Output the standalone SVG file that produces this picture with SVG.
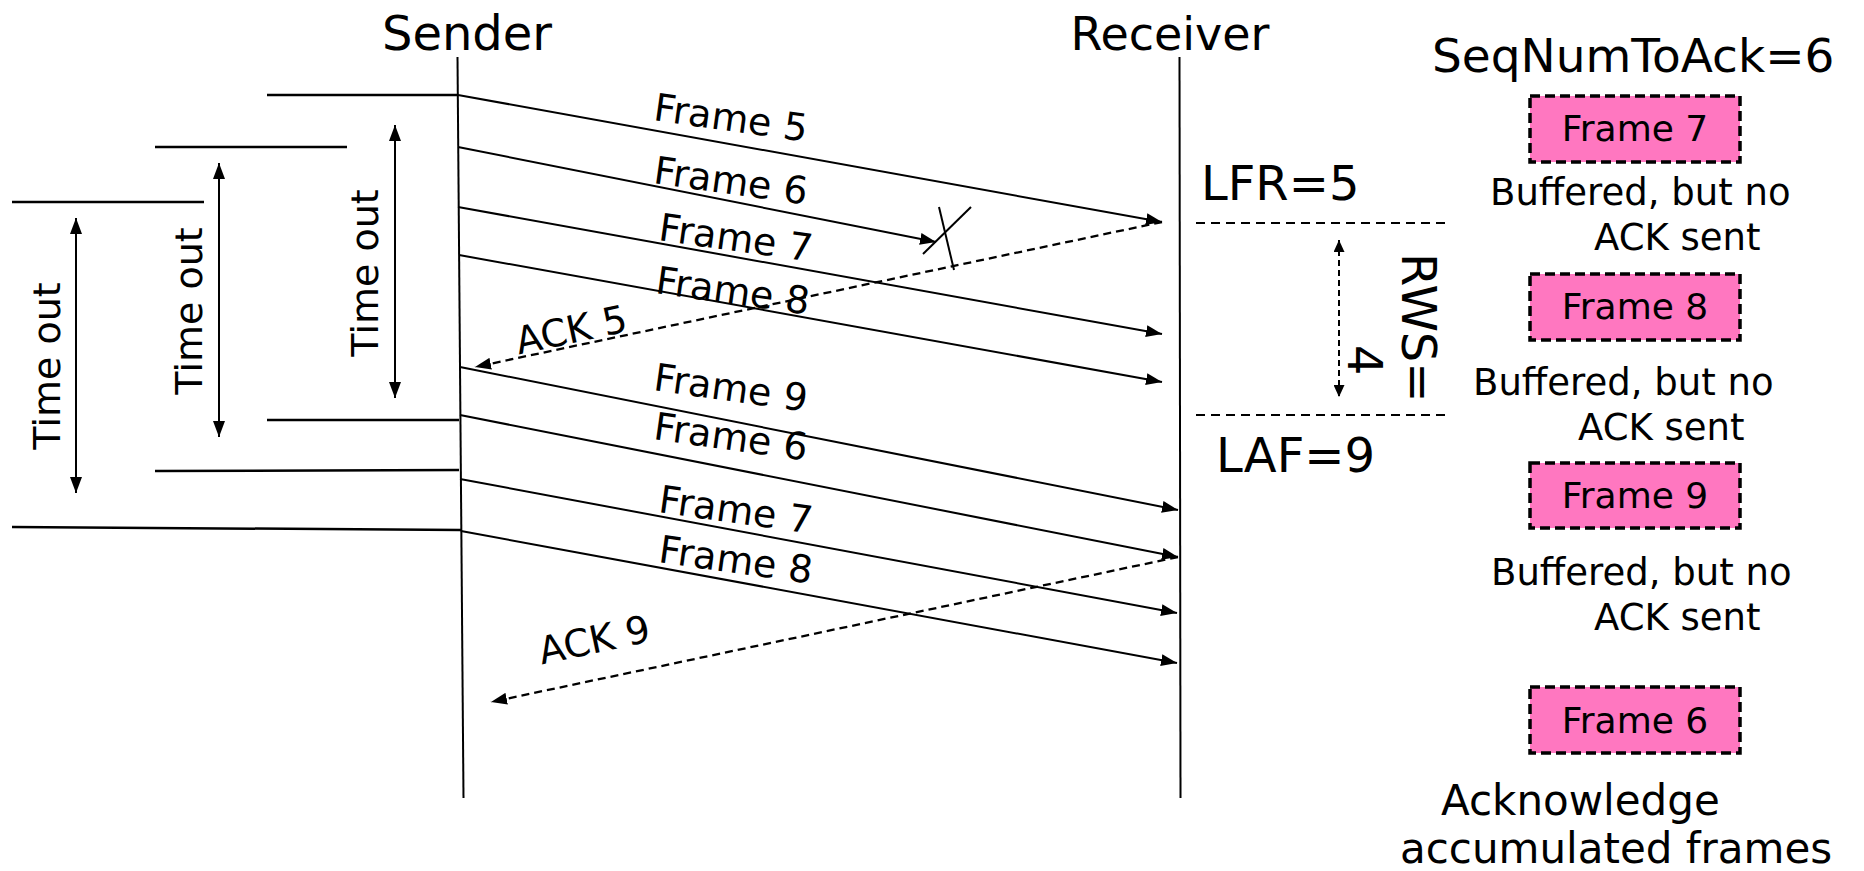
<svg xmlns="http://www.w3.org/2000/svg" width="1864" height="871" viewBox="0 0 1864 871">
<defs>
<style>
text{font-family:"DejaVu Sans","Verdana",sans-serif;fill:#000}
.life{stroke:#000;stroke-width:2;fill:none}
.tl{stroke:#000;stroke-width:2.5;fill:none}
.msg{stroke:#000;stroke-width:2;fill:none;marker-end:url(#ah)}
.ack{stroke:#000;stroke-width:2.3;fill:none;stroke-dasharray:8 5;marker-end:url(#ah)}
.to{stroke:#000;stroke-width:2;fill:none;marker-start:url(#ah2);marker-end:url(#ah2)}
.win{stroke:#000;stroke-width:2;fill:none;stroke-dasharray:9 6}
.rws{stroke:#000;stroke-width:2;fill:none;stroke-dasharray:6 4;marker-start:url(#ah3);marker-end:url(#ah3)}
.box{fill:#ff77c0;stroke:#000;stroke-width:3.5;stroke-dasharray:10 5}
.lbl{font-size:38px}
.big{font-size:48px}
.bt{font-size:36px}
.cap{font-size:37px}
.cap2{font-size:42px}
</style>
<marker id="ah" viewBox="0 0 16 12" refX="16" refY="6" markerWidth="16" markerHeight="12" markerUnits="userSpaceOnUse" orient="auto"><path d="M0,0 L16,6 L0,12 z" fill="#000"/></marker>
<marker id="ah2" viewBox="0 0 16 12" refX="16" refY="6" markerWidth="16" markerHeight="12" markerUnits="userSpaceOnUse" orient="auto-start-reverse"><path d="M0,0 L16,6 L0,12 z" fill="#000"/></marker>
<marker id="ah3" viewBox="0 0 12 11" refX="12" refY="5.5" markerWidth="12" markerHeight="11" markerUnits="userSpaceOnUse" orient="auto-start-reverse"><path d="M0,0 L12,5.5 L0,11 z" fill="#000"/></marker>
</defs>
<rect width="1864" height="871" fill="#fff"/>

<g id="sender">
<text class="big" x="467" y="50" text-anchor="middle">Sender</text>
<line class="life" x1="457.5" y1="57" x2="463.5" y2="798"/>
</g>
<g id="receiver">
<text class="big" x="1170" y="50" text-anchor="middle" style="font-size:46px">Receiver</text>
<line class="life" x1="1179.5" y1="57" x2="1180.5" y2="798"/>
</g>

<g id="timeouts">
<line class="tl" x1="267" y1="95" x2="458" y2="95"/>
<line class="tl" x1="155" y1="147" x2="347" y2="147"/>
<line class="tl" x1="12" y1="202" x2="204" y2="202"/>
<line class="tl" x1="267" y1="420" x2="459" y2="420"/>
<line class="tl" x1="155" y1="471" x2="459" y2="470"/>
<line class="tl" x1="12" y1="527" x2="461" y2="530"/>
<line class="to" x1="395" y1="125" x2="395" y2="398"/>
<line class="to" x1="219" y1="163" x2="219" y2="437"/>
<line class="to" x1="76" y1="218" x2="76" y2="493"/>
<text class="lbl" transform="translate(364,273) rotate(-90)" y="14" text-anchor="middle">Time out</text>
<text class="lbl" transform="translate(188,311) rotate(-90)" y="14" text-anchor="middle">Time out</text>
<text class="lbl" transform="translate(46,366) rotate(-90)" y="14" text-anchor="middle">Time out</text>
</g>

<g id="connectors">
<line class="msg" x1="458" y1="95" x2="1162" y2="222"/>
<line class="msg" x1="458" y1="147" x2="936" y2="242"/>
<line class="msg" x1="458" y1="207" x2="1162" y2="334"/>
<line class="msg" x1="459" y1="255" x2="1162" y2="382"/>
<line class="ack" x1="1162" y1="222" x2="475" y2="367"/>
<line class="msg" x1="460" y1="367" x2="1178" y2="510"/>
<line class="msg" x1="460" y1="415" x2="1178" y2="557"/>
<line class="msg" x1="460" y1="479" x2="1177" y2="613"/>
<line class="msg" x1="461" y1="531" x2="1177" y2="663"/>
<line class="ack" x1="1178" y1="557" x2="491" y2="702"/>
<line class="life" x1="939" y1="207" x2="954" y2="270"/>
<line class="life" x1="971" y1="207" x2="923" y2="254"/>
</g>

<g id="labels">
<text class="lbl" transform="translate(731,117) rotate(8)" y="14" text-anchor="middle">Frame 5</text>
<text class="lbl" transform="translate(731,180) rotate(8)" y="14" text-anchor="middle">Frame 6</text>
<text class="lbl" transform="translate(736,237) rotate(8)" y="14" text-anchor="middle">Frame 7</text>
<text class="lbl" transform="translate(733,290) rotate(8)" y="14" text-anchor="middle">Frame 8</text>
<text class="lbl" transform="translate(571,329) rotate(-12)" y="14" text-anchor="middle">ACK 5</text>
<text class="lbl" transform="translate(731,387) rotate(8)" y="14" text-anchor="middle">Frame 9</text>
<text class="lbl" transform="translate(731,436) rotate(8)" y="14" text-anchor="middle">Frame 6</text>
<text class="lbl" transform="translate(736,509) rotate(8)" y="14" text-anchor="middle">Frame 7</text>
<text class="lbl" transform="translate(736,559) rotate(8)" y="14" text-anchor="middle">Frame 8</text>
<text class="lbl" transform="translate(594,639) rotate(-12)" y="14" text-anchor="middle">ACK 9</text>
</g>

<g id="window">
<text class="big" x="1201" y="200">LFR=5</text>
<line class="win" x1="1196" y1="223" x2="1450" y2="223"/>
<line class="win" x1="1196" y1="415" x2="1450" y2="415"/>
<text class="big" x="1216" y="472">LAF=9</text>
<line class="rws" x1="1339" y1="240" x2="1339" y2="397"/>
<text class="big" transform="translate(1402,253) rotate(90)"><tspan x="0" y="0">RWS=</tspan><tspan x="92" y="54">4</tspan></text>
</g>

<g id="seqnum">
<text class="big" x="1432" y="72" style="font-size:47px">SeqNumToAck=6</text>
</g>

<g id="buf7">
<rect class="box" x="1530" y="96" width="210" height="66"/>
<text class="bt" x="1635" y="141" text-anchor="middle">Frame 7</text>
<text class="cap" x="1490" y="205">Buffered, but no</text>
<text class="cap" x="1594" y="250">ACK sent</text>
</g>
<g id="buf8">
<rect class="box" x="1530" y="274" width="210" height="66"/>
<text class="bt" x="1635" y="319" text-anchor="middle">Frame 8</text>
<text class="cap" x="1473" y="395">Buffered, but no</text>
<text class="cap" x="1578" y="440">ACK sent</text>
</g>
<g id="buf9">
<rect class="box" x="1530" y="463" width="210" height="65"/>
<text class="bt" x="1635" y="508" text-anchor="middle">Frame 9</text>
<text class="cap" x="1491" y="585">Buffered, but no</text>
<text class="cap" x="1594" y="630">ACK sent</text>
</g>
<g id="buf6">
<rect class="box" x="1530" y="687" width="210" height="66"/>
<text class="bt" x="1635" y="733" text-anchor="middle">Frame 6</text>
<text class="cap2" x="1441" y="815">Acknowledge</text>
<text class="cap2" x="1400" y="863">accumulated frames</text>
</g>
</svg>
